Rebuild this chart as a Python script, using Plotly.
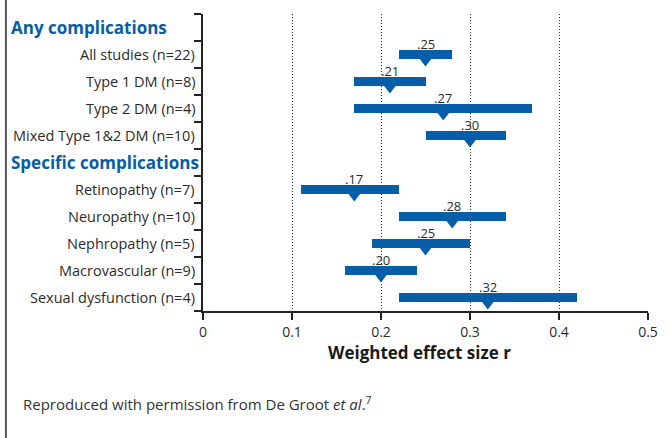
import plotly.graph_objects as go

# ---- data ----
rows = ["Any complications", "All studies (n=22)", "Type 1 DM (n=8)", "Type 2 DM (n=4)",
        "Mixed Type 1&2 DM (n=10)", "Specific complications", "Retinopathy (n=7)",
        "Neuropathy (n=10)", "Nephropathy (n=5)", "Macrovascular (n=9)",
        "Sexual dysfunction (n=4)"]
is_heading = [True, False, False, False, False, True, False, False, False, False, False]
effect = [None, 0.25, 0.21, 0.27, 0.30, None, 0.17, 0.28, 0.25, 0.20, 0.32]
ci_low = [None, 0.22, 0.17, 0.17, 0.25, None, 0.11, 0.22, 0.19, 0.16, 0.22]
ci_high = [None, 0.28, 0.25, 0.37, 0.34, None, 0.22, 0.34, 0.30, 0.24, 0.42]
effect_labels = [None, ".25", ".21", ".27", ".30", None, ".17", ".28", ".25", ".20", ".32"]
x_ticks = [0, 0.1, 0.2, 0.3, 0.4, 0.5]
x_tick_labels = ["0", "0.1", "0.2", "0.3", "0.4", "0.5"]

BLUE = "#065da8"
TEXT = "#2b2b2b"
FONT = "Open Sans"

W, H = 669, 438
ML, MR, MT, MB = 203, 11, 14, 127
PW, PH = W - ML - MR, H - MT - MB

idx = [i for i, e in enumerate(effect) if e is not None]

fig = go.Figure()
fig.add_trace(go.Bar(
    orientation="h",
    y=[i + 0.5 for i in idx],
    base=[ci_low[i] for i in idx],
    x=[ci_high[i] - ci_low[i] for i in idx],
    width=0.3,
    marker=dict(color=BLUE, line=dict(width=0)),
    hoverinfo="skip",
    showlegend=False,
))
fig.add_trace(go.Scatter(
    x=[effect[i] for i in idx],
    y=[i + 0.74 for i in idx],
    mode="markers",
    marker=dict(symbol="triangle-down", size=11, color=BLUE, line=dict(width=0)),
    hoverinfo="skip",
    showlegend=False,
))

annotations = []
for i in idx:
    annotations.append(dict(
        x=effect[i], y=i + 0.1, xref="x", yref="y", text=effect_labels[i],
        showarrow=False, xanchor="center", yanchor="middle",
        font=dict(family=FONT, size=13, color=TEXT)))

for i, name in enumerate(rows):
    yp = 1 - (i + 0.5) / len(rows)
    if is_heading[i]:
        annotations.append(dict(
            x=(5 - ML) / PW, y=yp, xref="paper", yref="paper", text="<b>%s</b>" % name,
            showarrow=False, xanchor="left", yanchor="middle",
            font=dict(family=FONT, size=17, color=BLUE)))
    else:
        annotations.append(dict(
            x=(197 - ML) / PW, y=yp, xref="paper", yref="paper", text=name,
            showarrow=False, xanchor="right", yanchor="middle",
            font=dict(family=FONT, size=14.5, color=TEXT)))

annotations.append(dict(
    x=(424 - ML) / PW, y=(311 - 352) / PH, xref="paper", yref="paper",
    text="<b>Weighted effect size r</b>", showarrow=False,
    xanchor="center", yanchor="middle", font=dict(family=FONT, size=17, color="#1a1a1a")))
annotations.append(dict(
    x=(17 - ML) / PW, y=(311 - 403) / PH, xref="paper", yref="paper",
    text="Reproduced with permission from De Groot <i>et al</i>.<sup>7</sup>",
    showarrow=False, xanchor="left", yanchor="middle",
    font=dict(family=FONT, size=15, color="#333333")))

shapes = [dict(type="line", xref="paper", yref="paper",
               x0=(1.5 - ML) / PW, x1=(1.5 - ML) / PW,
               y0=(311 - H) / PH, y1=1 + MT / PH,
               line=dict(color="#555555", width=2))]

fig.update_layout(
    width=W, height=H,
    margin=dict(l=ML, r=MR, t=MT, b=MB),
    paper_bgcolor="white", plot_bgcolor="white",
    font=dict(family=FONT, color=TEXT),
    bargap=0,
    annotations=annotations,
    shapes=shapes,
    xaxis=dict(
        range=[0, 0.5], tickvals=x_ticks, ticktext=x_tick_labels,
        showgrid=True, gridcolor="#333333", gridwidth=1, griddash="1px,2px",
        showline=True, linecolor="#222222", linewidth=1.5,
        ticks="outside", ticklen=7, tickcolor="#222222", tickwidth=1.5,
        tickfont=dict(family=FONT, size=14, color=TEXT),
        zeroline=False, fixedrange=True,
    ),
    yaxis=dict(
        range=[len(rows), 0], tickvals=list(range(len(rows) + 1)), showticklabels=False,
        showgrid=False, zeroline=False,
        showline=True, linecolor="#222222", linewidth=1.5,
        ticks="outside", ticklen=7, tickcolor="#222222", tickwidth=1.5,
        fixedrange=True,
    ),
)

fig.write_html("out.html")
